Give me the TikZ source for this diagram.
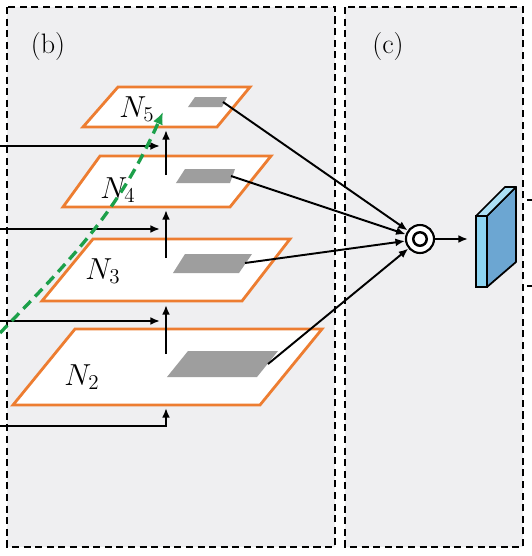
\documentclass[tikz,border=0pt]{standalone}
\usepackage{tikz}
\usetikzlibrary{arrows.meta}

\definecolor{panelgray}{RGB}{239,239,241}
\definecolor{layerorange}{RGB}{237,125,49}
\definecolor{patchgray}{RGB}{158,158,158}
\definecolor{pathgreen}{RGB}{28,160,74}
\definecolor{boxfront}{RGB}{140,212,242}
\definecolor{boxside}{RGB}{108,166,210}
\definecolor{boxtop}{RGB}{172,224,246}

\begin{document}
\begin{tikzpicture}[>={Latex[length=5.5pt,width=4.5pt]}, x=0.02cm, y=-0.02cm,
    panel/.style={draw, dash pattern=on 4pt off 2.6pt, line width=0.9pt, fill=panelgray},
    layer/.style={draw=layerorange, line width=1.6pt, fill=white},
    patch/.style={fill=patchgray},
    flow/.style={->, line width=1.1pt},
    lbl/.style={font=\fontsize{16}{18}\selectfont},
    lname/.style={font=\fontsize{17}{19}\selectfont}]

        \useasboundingbox (0,0) rectangle (532,556);

        % The two dashed panels.
        \draw[panel] (7,7) rectangle (335,547);
        \draw[panel] (345,7) rectangle (523,547);
        \node[lbl] (labelb) at (48,46) {(b)};
        \node[lbl] (labelc) at (388,46) {(c)};

        % Layer N2 with its patch.
        \draw[layer] (13,405) -- (75,329) -- (322,329) -- (260,405) -- cycle;
        \fill[patch] (167,377) -- (188,351) -- (278,351) -- (257,377) -- cycle;
        \node[lname] (n2) at (82,377) {$N_2$};

        % Layer N3 with its patch.
        \draw[layer] (42,301) -- (93,239) -- (290,239) -- (242,301) -- cycle;
        \fill[patch] (173,273) -- (185,254) -- (252,254) -- (239,273) -- cycle;
        \node[lname] (n3) at (103,271) {$N_3$};

        % Layer N4 with its patch.
        \draw[layer] (63,207) -- (100,156) -- (271,156) -- (230,207) -- cycle;
        \fill[patch] (176,183) -- (185,169) -- (235,169) -- (230,183) -- cycle;
        \node[lname] (n4) at (118,190) {$N_4$};

        % Layer N5 with its patch.
        \draw[layer] (83,127) -- (118,87) -- (250,87) -- (217,127) -- cycle;
        \fill[patch] (188,107) -- (195,97) -- (227,97) -- (222,107) -- cycle;
        \node[lname] (n5) at (137,109) {$N_5$};

        % Points where the arrows start and end.
        \coordinate (in2) at (0,426);
        \coordinate (in3) at (0,321);
        \coordinate (in4) at (0,229);
        \coordinate (in5) at (0,146);
        \coordinate (bot2) at (166,408);
        \coordinate (top2) at (166,354);
        \coordinate (bot3) at (166,305);
        \coordinate (top3) at (166,258);
        \coordinate (bot4) at (166,210);
        \coordinate (top4) at (166,175);
        \coordinate (bot5) at (166,130);
        \coordinate (p2) at (268,364);
        \coordinate (p3) at (245,263);
        \coordinate (p4) at (231,176);
        \coordinate (p5) at (223,102);
        \coordinate (greenstart) at (0,333);
        \coordinate (greenend) at (163,112);

        % Lateral inputs from the left.
        \draw[flow] (in2) -| (bot2);
        \draw[flow] (in3) -- (160,321);
        \draw[flow] (in4) -- (160,229);
        \draw[flow] (in5) -- (160,146);

        % Bottom-up arrows between the layers.
        \draw[flow] (top2) -- (bot3);
        \draw[flow] (top3) -- (bot4);
        \draw[flow] (top4) -- (bot5);

        % Green shortcut path.
        \draw[pathgreen, line width=1.9pt, dash pattern=on 6pt off 3.6pt,
              -{Latex[length=7pt,width=6pt]}]
            (greenstart) to[out=46, in=-114] (greenend);

        % Fusion node and the output block.
        \node[circle, draw, fill=white, line width=1.2pt, minimum size=0.56cm,
              inner sep=0pt] (fuse) at (420,239) {};
        \node[circle, draw, line width=1.4pt, minimum size=0.27cm,
              inner sep=0pt] (fusein) at (fuse) {};

        \draw[flow] (p5) -- (fuse);
        \draw[flow] (p4) -- (fuse);
        \draw[flow] (p3) -- (fuse);
        \draw[flow] (p2) -- (fuse);

        \coordinate (boxin) at (468,239);
        \draw[flow] (fuse) -- (boxin);

        % Output feature map drawn as a box.
        \draw[line width=1pt, line join=round, fill=boxside]
            (487,216) -- (516,187) -- (516,262) -- (487,287) -- cycle;
        \draw[line width=1pt, line join=round, fill=boxtop]
            (476,216) -- (505,187) -- (516,187) -- (487,216) -- cycle;
        \draw[line width=1pt, fill=boxfront] (476,216) rectangle (487,287);

        % Cut-off marks at the right edge.
        \draw[line width=1.2pt] (527,200) -- (532,200);
        \draw[line width=1.2pt] (527,286) -- (532,286);
    \end{tikzpicture}
\end{document}
